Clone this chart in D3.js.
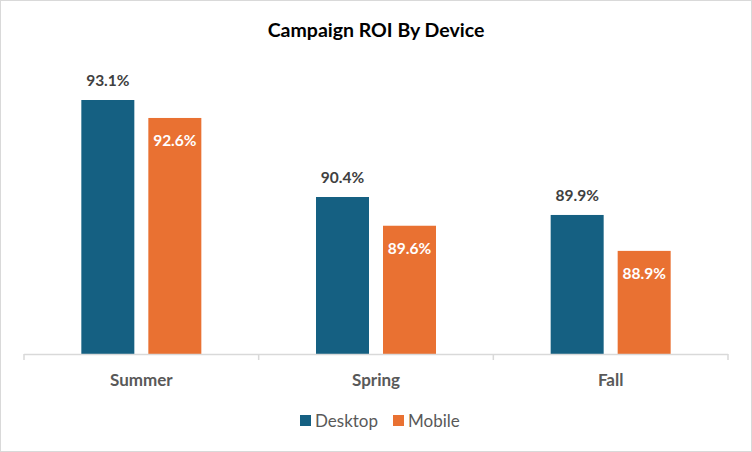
<!DOCTYPE html>
<html><head><meta charset="utf-8">
<script src="https://cdn.jsdelivr.net/npm/d3@7"></script>
<style>body{margin:0;background:#fff;} svg{display:block;font-family:Lato,"Open Sans",sans-serif;}</style>
</head><body><svg id="c" width="752" height="452"></svg>
<script>
const title = "Campaign ROI By Device";
const categories = ["Summer", "Spring", "Fall"];
const seriesNames = ["Desktop", "Mobile"];
const desktop = [93.1, 90.4, 89.9];
const mobile = [92.6, 89.6, 88.9];
const colors = ["#156082", "#E97132"];
const axisMin = 86.03, axisMax = 93.1;

const svg = d3.select("#c");
svg.append("rect").attr("x",0.5).attr("y",0.5).attr("width",751).attr("height",451)
  .attr("fill","#fff").attr("stroke","#d9d9d9");

svg.append("text").attr("x",376).attr("y",37).attr("text-anchor","middle")
  .attr("font-size",19.5).attr("font-weight",700).attr("fill","#000").text(title);

const x0 = d3.scaleBand().domain(categories).range([24,728]);
const x1 = d3.scaleBand().domain(seriesNames).range([0,120]).paddingInner(0.209);
const y = d3.scaleLinear().domain([axisMin, axisMax]).range([354,100]);

const data = categories.map((c,i)=>({cat:c, vals:[desktop[i], mobile[i]]}));
const g = svg.append("g");
data.forEach(d=>{
  const cx = x0(d.cat) + x0.bandwidth()/2 - 60;
  d.vals.forEach((v,j)=>{
    const s = seriesNames[j];
    const bx = cx + x1(s);
    g.append("rect").attr("x",bx).attr("y",y(v)).attr("width",x1.bandwidth())
      .attr("height",y(axisMin)-y(v)).attr("fill",colors[j]);
    const lab = g.append("text").attr("x",bx + x1.bandwidth()/2)
      .attr("text-anchor","middle").attr("font-size",15.5).attr("font-weight",700)
      .text(v.toFixed(1)+"%");
    if(j===0){ lab.attr("y",y(v)-14).attr("fill","#404040"); }
    else { lab.attr("y",y(v)+28).attr("fill","#fff"); }
  });
});

const ax = svg.append("g").attr("transform","translate(0,354)")
  .call(d3.axisBottom(x0).tickSize(0).tickPadding(20));
ax.select(".domain").remove();
ax.append("line").attr("x1",24).attr("x2",728).attr("y1",0.5).attr("y2",0.5).attr("stroke","#d9d9d9").attr("stroke-width",1.5);
[24, ...categories.map(c=>x0(c)+x0.bandwidth())].forEach(t=>{
  ax.append("line").attr("x1",t).attr("x2",t).attr("y1",0).attr("y2",6).attr("stroke","#d9d9d9").attr("stroke-width",1.5);
});
ax.selectAll(".tick text").attr("font-size",17).attr("font-weight",700).attr("fill","#595959")
  .attr("font-family",'Lato,"Open Sans",sans-serif');

const legendX = [300, 393];
seriesNames.forEach((s,j)=>{
  svg.append("rect").attr("x",legendX[j]).attr("y",415).attr("width",11).attr("height",11).attr("fill",colors[j]);
  svg.append("text").attr("x",legendX[j]+15).attr("y",426.5).attr("font-size",17).attr("fill","#595959").text(s);
});
</script></body></html>
